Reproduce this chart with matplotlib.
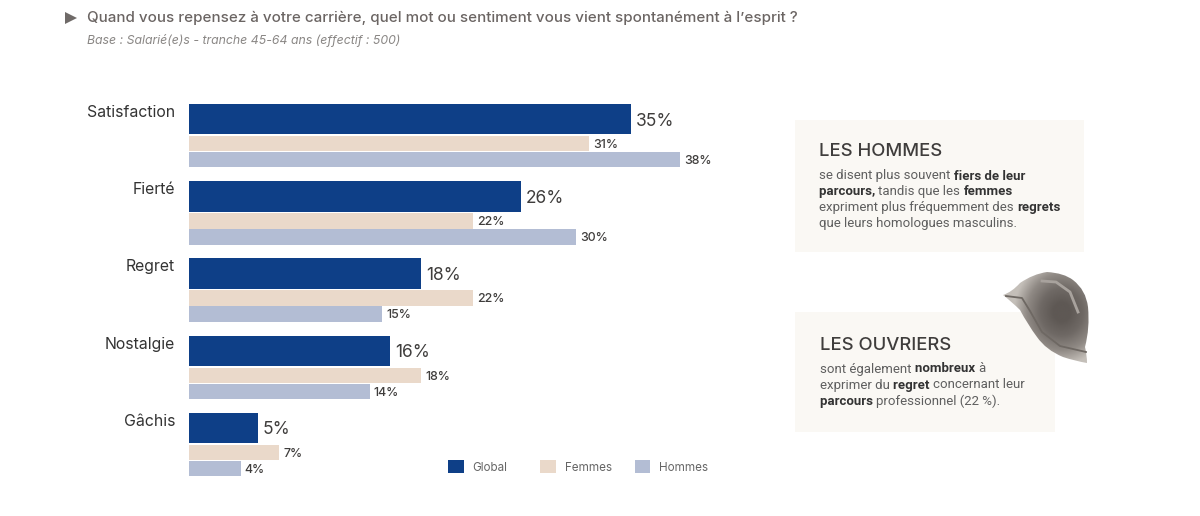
import numpy as np
import matplotlib
matplotlib.use("Agg")
import matplotlib.pyplot as plt
from matplotlib.colors import LinearSegmentedColormap
from matplotlib.patches import Rectangle, Polygon, PathPatch
from matplotlib.path import Path

categories = ["Satisfaction", "Fierté", "Regret", "Nostalgie", "Gâchis"]
# bar lengths, in points of percentage
global_vals = [34.3, 25.7, 18.0, 15.6, 5.35]
femmes_vals = [31.0, 22.0, 22.0, 18.0, 7.0]
hommes_vals = [38.05, 30.0, 15.0, 14.0, 4.0]
# printed labels
global_labels = ["35%", "26%", "18%", "16%", "5%"]
femmes_labels = ["31%", "22%", "22%", "18%", "7%"]
hommes_labels = ["38%", "30%", "15%", "14%", "4%"]
series_names = ["Global", "Femmes", "Hommes"]

NAVY, BEIGE, BLUEGREY = "#0E3F87", "#EAD9CA", "#B3BDD4"
PANEL, DARK, GREY = "#FAF8F4", "#3F3D3C", "#5F5F5F"
W, H = 1200, 516

fig = plt.figure(figsize=(W / 100, H / 100), dpi=100, facecolor="white")
px = 1 / 77.25


def pos(l, t, r, b):
    return [l / W, 1 - b / H, (r - l) / W, (b - t) / H]


ax = fig.add_axes(pos(189, 90, 730, 490))
ax.set_xlim(0, 541 / 12.9)
ax.set_ylim((490 - 119) * px, (90 - 119) * px)
ax.patch.set_alpha(0)
for s in ax.spines.values():
    s.set_visible(False)
ax.set_xticks([])

y = np.arange(len(categories))
y_g, y_f, y_h = y, y + 24.5 * px, y + 40.5 * px
b1 = ax.barh(y_g, global_vals, height=30.5 * px, color=NAVY, label=series_names[0])
b2 = ax.barh(y_f, femmes_vals, height=15.5 * px, color=BEIGE, label=series_names[1])
b3 = ax.barh(y_h, hommes_vals, height=15.5 * px, color=BLUEGREY, label=series_names[2])

ax.set_yticks(y - 8 * px, categories, fontfamily="Inter", fontsize=11.4, color="#333333")
ax.tick_params(axis="y", length=0, pad=10)

for yy, v, t in zip(y_g, global_vals, global_labels):
    ax.annotate(t, (v, yy), xytext=(3.5, 0), textcoords="offset points", va="center_baseline",
                family="Inter", fontsize=12.5, color=DARK)
for yy, v, t in zip(y_f, femmes_vals, femmes_labels):
    ax.annotate(t, (v, yy), xytext=(3, 0), textcoords="offset points", va="center_baseline",
                family="Inter", fontsize=8.9, color=DARK, weight="medium")
for yy, v, t in zip(y_h, hommes_vals, hommes_labels):
    ax.annotate(t, (v, yy), xytext=(3, 0), textcoords="offset points", va="center_baseline",
                family="Inter", fontsize=8.9, color=DARK, weight="medium")

leg_opts = dict(frameon=False, loc="center left", borderpad=0, borderaxespad=0,
                handlelength=1.33, handleheight=1.33, handletextpad=0.77,
                columnspacing=1.97, labelcolor="#666666",
                prop={"family": "Inter", "size": 8.4})
leg1 = ax.legend(handles=[b1], bbox_to_anchor=((448 - 189) / 541, 1 - (467 - 90) / 400), **leg_opts)
ax.add_artist(leg1)
ax.legend(handles=[b2, b3], ncol=2, bbox_to_anchor=((540 - 189) / 541, 1 - (467 - 90) / 400), **leg_opts)

# overlay in pixel coordinates for the annotation furniture
ov = fig.add_axes([0, 0, 1, 1], zorder=-1)
ov.set_xlim(0, W)
ov.set_ylim(H, 0)
ov.axis("off")
ov.add_patch(Polygon([(65, 12), (77, 18), (65, 24)], closed=True, color="#6F6A68", lw=0))
ov.text(87, 18, "Quand vous repensez à votre carrière, quel mot ou sentiment vous vient "
        "spontanément à l’esprit ?", family="Inter", fontsize=10.9, color="#6B6563",
        va="center", weight="medium")
ov.text(87, 40.5, "Base : Salarié(e)s - tranche 45-64 ans (effectif : 500)", family="Inter",
        fontsize=8.85, color="#8A8785", va="center", style="italic")

ov.add_patch(Rectangle((795, 120), 289, 132, color=PANEL, lw=0))
ov.add_patch(Rectangle((795, 312), 260, 120, color=PANEL, lw=0))


def runs(x, y, parts, size=9.55):
    r = fig.canvas.get_renderer()
    for s, bold in parts:
        t = ov.text(x, y, s, family="Roboto", fontsize=size, va="center",
                    color="#333333" if bold else GREY, weight="bold" if bold else "normal")
        x = ov.transData.inverted().transform(t.get_window_extent(r))[1, 0]


ov.text(819, 150, "LES HOMMES", family="Inter", fontsize=13.3, color=DARK, va="center_baseline", weight="medium")
runs(819, 176, [("se disent plus souvent ", 0), ("fiers de leur", 1)])
runs(819, 191.5, [("parcours, ", 1), ("tandis que les ", 0), ("femmes", 1)])
runs(819, 207.5, [("expriment plus fréquemment des ", 0), ("regrets", 1)])
runs(819, 223, [("que leurs homologues masculins.", 0)])

ov.text(820, 344, "LES OUVRIERS", family="Inter", fontsize=13.3, color=DARK, va="center_baseline", weight="medium")
runs(820, 369, [("sont également ", 0), ("nombreux ", 1), ("à", 0)])
runs(820, 385, [("exprimer du ", 0), ("regret ", 1), ("concernant leur", 0)])
runs(820, 401, [("parcours ", 1), ("professionnel (22 %).", 0)])

# helmet decoration
verts = [(1003, 295), (1012, 292), (1020, 283), (1033, 274), (1047, 272), (1064, 273), (1073, 280),
         (1086, 290), (1088, 307), (1090, 328), (1085, 347), (1087, 355), (1087, 363),
         (1075, 361), (1063, 357), (1046, 350), (1037, 337), (1028, 325), (1020, 310),
         (1012, 302), (1003, 295)]
codes = [Path.MOVETO] + [Path.CURVE3] * 20
helmet = Path(verts, codes)
cmap = LinearSegmentedColormap.from_list("helmet", ["#5E5854", "#6F6965", "#8F8984", "#C4BFB9"])
gx, gy = np.meshgrid(np.linspace(1003, 1090, 120), np.linspace(272, 364, 120))
shade = np.hypot((gx - 1062) / 42, (gy - 312) / 46)
im = ov.imshow(shade, extent=(1003, 1090, 364, 272), cmap=cmap, vmin=0.2, vmax=1.15,
               aspect="auto", interpolation="bilinear", zorder=3)
clip = PathPatch(helmet, transform=ov.transData, fc="none", lw=0)
ov.add_patch(clip)
im.set_clip_path(clip)
ov.set_xlim(0, W)
ov.set_ylim(H, 0)
ov.plot([1006, 1022, 1030, 1042, 1060, 1086], [296, 298, 311, 332, 346, 352], color="#6E6863", lw=1.3, zorder=4)
ov.plot([1042, 1056, 1070, 1078], [281, 282, 292, 312], color="#A8A29D", lw=2.0, zorder=4)

fig.savefig("out.png", dpi=100, facecolor="white")
